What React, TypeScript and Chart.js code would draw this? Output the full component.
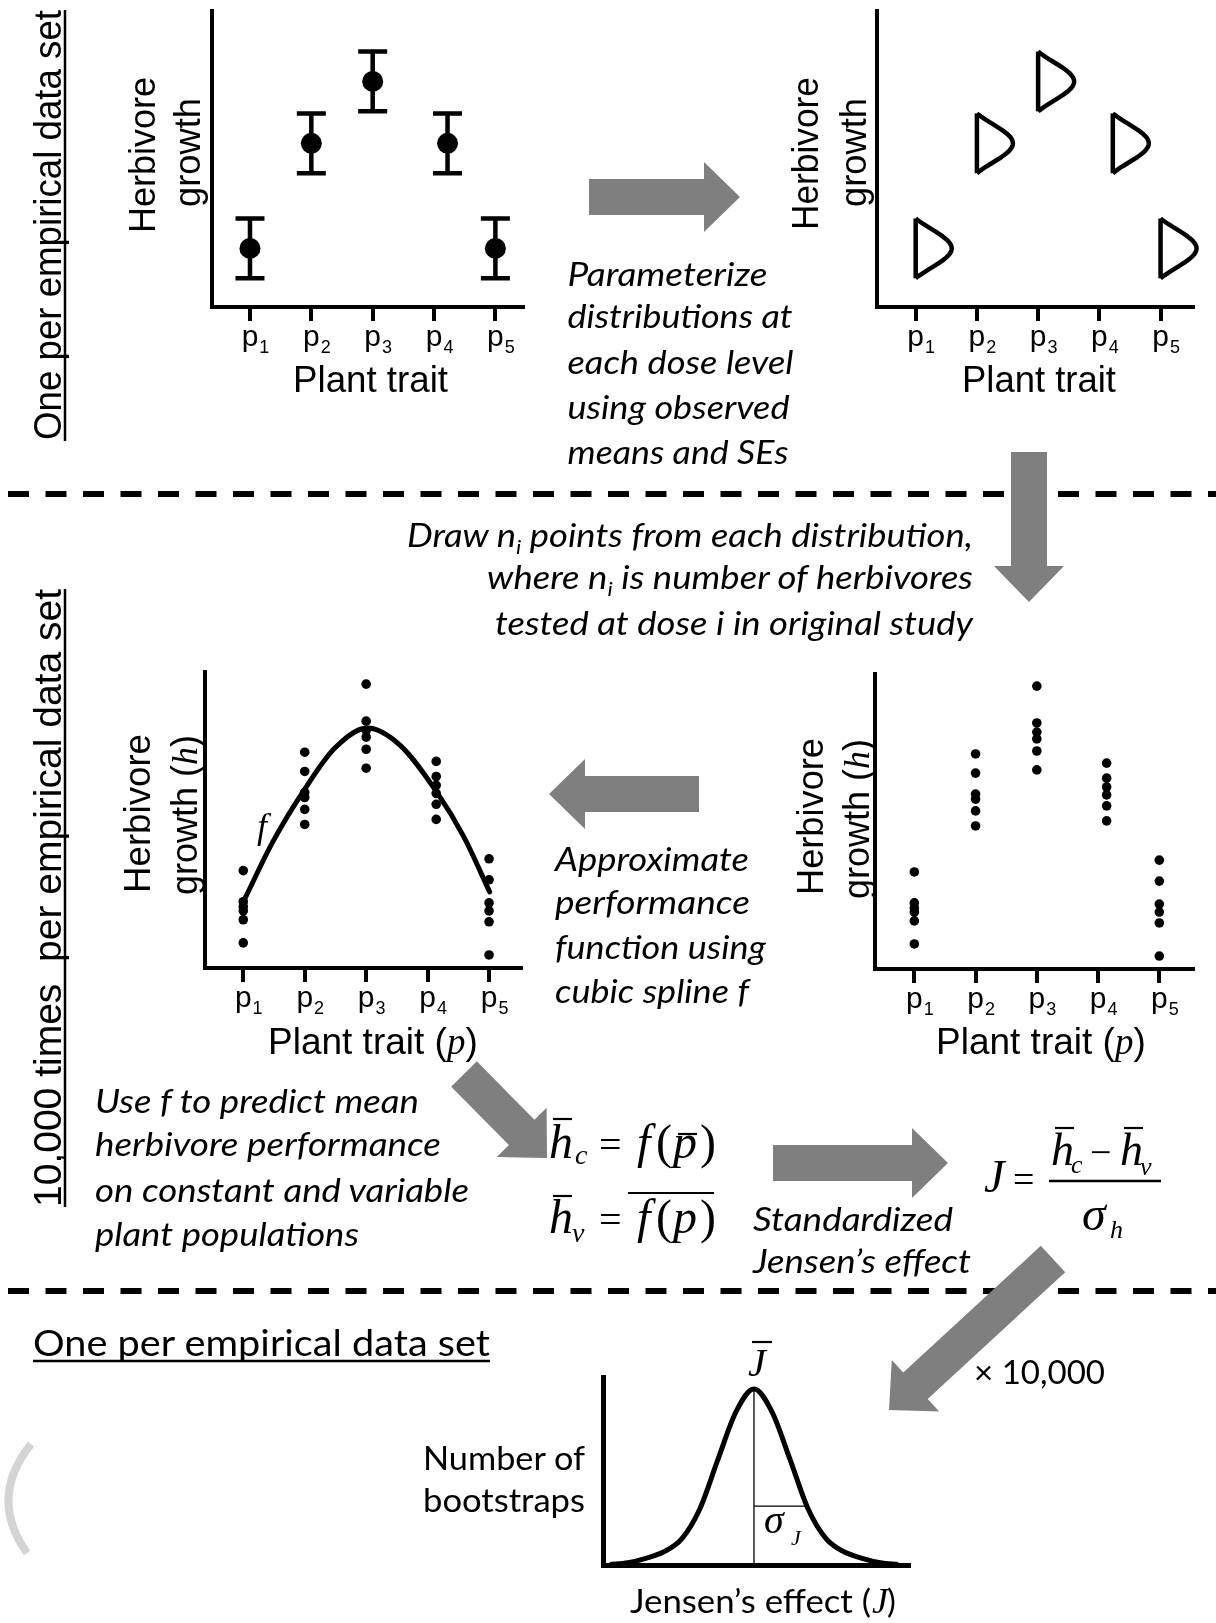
import React, { useEffect, useRef } from 'react';
import { Chart, registerables } from 'chart.js';

Chart.register(...registerables);

// ---------------- data ----------------
const tickLabels = ['p1', 'p2', 'p3', 'p4', 'p5'];
const tickPositions = [1, 2, 3, 4, 5];
const topTraitPositions = [1, 2, 3, 4.22, 5];
const midTraitPositions = [1, 2, 3, 4.14, 5];
const observedMeans = [19.8, 55.3, 76.2, 55.3, 19.8];
const observedSE = [10.1, 10.1, 10.1, 10.1, 10.1];
const drawnP1 = [32.9, 22.4, 20.7, 19.3, 16.3, 8.5];
const drawnP2 = [72.9, 66.4, 59.3, 57.6, 53.6, 48.5];
const drawnP3 = [95.9, 83.4, 80.3, 78.0, 73.9, 67.5];
const drawnP4 = [69.8, 64.7, 61.7, 59.0, 55.3, 50.2];
const drawnP5 = [36.9, 29.8, 22.0, 19.3, 15.6, 4.4];
const splineX = [1.03, 1.48, 1.99, 2.49, 3.02, 3.55, 4.16, 4.59, 5.01];
const splineY = [23.6, 42.6, 60.1, 74.3, 81.1, 75.3, 59.1, 44.3, 25.7];
const jensenX = [-4, -3.5, -3, -2.5, -2, -1.5, -1, -0.5, 0, 0.5, 1, 1.5, 2, 2.5, 3, 3.5, 4];
const bootstrapCounts = [0.3, 1.3, 3.8, 7.5, 15, 32, 60, 87, 100, 87, 60, 32, 15, 7.5, 3.8, 1.3, 0.3];
const jensenMean = 0;
const jensenPeak = 100;
const sigmaX = 1.47;
const sigmaLevel = 33.5;

// ---------------- fonts / colours ----------------
const SANS = '"Liberation Sans", Arial, Helvetica, sans-serif';
const SERIF = '"Liberation Serif", "Times New Roman", serif';
const HUM = 'Lato, "Open Sans", sans-serif';
const GRAY = '#7f7f7f';

// ---------------- chart helpers ----------------
function baseOptions(xmin: number, xmax: number, ymax: number, withTicks: boolean, lw: number): any {
  const x: any = {
    type: 'linear',
    display: true,
    min: xmin,
    max: xmax,
    afterFit: (s: any) => { s.height = 0; },
    ticks: { display: false },
    grid: withTicks
      ? { display: true, drawOnChartArea: false, drawTicks: true, tickLength: 14, tickWidth: lw, tickColor: '#000', color: '#000', lineWidth: lw }
      : { display: false },
    border: { display: true, width: lw, color: '#000' },
  };
  if (withTicks) {
    x.afterBuildTicks = (s: any) => { s.ticks = tickPositions.map((v) => ({ value: v })); };
  }
  return {
    responsive: false,
    animation: false,
    events: [],
    plugins: { legend: { display: false }, tooltip: { enabled: false } },
    scales: {
      x,
      y: {
        type: 'linear',
        display: true,
        min: 0,
        max: ymax,
        afterFit: (s: any) => { s.width = 0; },
        ticks: { display: false },
        grid: { display: false },
        border: { display: true, width: lw, color: '#000' },
      },
    },
  };
}

const pTickLabelPlugin = {
  id: 'pTickLabels',
  afterDraw(chart: any) {
    const { ctx, chartArea } = chart;
    const xs = chart.scales.x;
    ctx.save();
    ctx.fillStyle = '#000';
    ctx.textBaseline = 'alphabetic';
    tickLabels.forEach((lab, i) => {
      const x = xs.getPixelForValue(tickPositions[i]);
      const base = chartArea.bottom + 39;
      ctx.font = `30px ${SANS}`;
      ctx.textAlign = 'center';
      ctx.fillText(lab[0], x, base);
      const w = ctx.measureText(lab[0]).width;
      ctx.font = `18px ${SANS}`;
      ctx.textAlign = 'left';
      ctx.fillText(lab.slice(1), x + w / 2 + 1, base + 7);
    });
    ctx.restore();
  },
};

const errorBarPlugin = {
  id: 'errorBars',
  beforeDatasetsDraw(chart: any) {
    const { ctx } = chart;
    const ys = chart.scales.y;
    const meta = chart.getDatasetMeta(0);
    ctx.save();
    ctx.strokeStyle = '#000';
    ctx.lineWidth = 4.5;
    meta.data.forEach((pt: any, i: number) => {
      const yTop = ys.getPixelForValue(observedMeans[i] + observedSE[i]);
      const yBot = ys.getPixelForValue(observedMeans[i] - observedSE[i]);
      ctx.beginPath();
      ctx.moveTo(pt.x, yTop); ctx.lineTo(pt.x, yBot);
      ctx.moveTo(pt.x - 14.5, yTop); ctx.lineTo(pt.x + 14.5, yTop);
      ctx.moveTo(pt.x - 14.5, yBot); ctx.lineTo(pt.x + 14.5, yBot);
      ctx.stroke();
    });
    ctx.restore();
  },
};

const halfDistributionPlugin = {
  id: 'halfDistributions',
  afterDatasetsDraw(chart: any) {
    const { ctx } = chart;
    const ys = chart.scales.y;
    const meta = chart.getDatasetMeta(0);
    const k = 1.2;
    const floor = Math.exp(-k);
    ctx.save();
    ctx.strokeStyle = '#000';
    ctx.lineWidth = 4.5;
    ctx.lineJoin = 'round';
    meta.data.forEach((pt: any, i: number) => {
      const m = observedMeans[i];
      const se = observedSE[i];
      const yTop = ys.getPixelForValue(m + se);
      const yBot = ys.getPixelForValue(m - se);
      ctx.beginPath();
      ctx.moveTo(pt.x, yTop);
      ctx.lineTo(pt.x, yBot);
      ctx.stroke();
      ctx.beginPath();
      ctx.moveTo(pt.x, yTop);
      for (let s = 0; s <= 40; s++) {
        const t = 1 - (2 * s) / 40;
        const y = ys.getPixelForValue(m + t * se);
        const dx = (36 * (Math.exp(-k * t * t) - floor)) / (1 - floor);
        ctx.lineTo(pt.x + dx, y);
      }
      ctx.stroke();
    });
    ctx.restore();
  },
};

function dotsFrom(levels: number[][], positions: number[]) {
  const out: { x: number; y: number }[] = [];
  levels.forEach((vals, i) => vals.forEach((v) => out.push({ x: positions[i], y: v })));
  return out;
}

const buildTopLeft = () => ({
  type: 'scatter',
  data: {
    datasets: [{
      data: topTraitPositions.map((x, i) => ({ x, y: observedMeans[i] })),
      pointRadius: 10.5, backgroundColor: '#000', borderColor: '#000', pointBorderWidth: 0, clip: false,
    }],
  },
  options: baseOptions(0.381, 5.45, 100, true, 4),
  plugins: [errorBarPlugin, pTickLabelPlugin],
});

const buildTopRight = () => ({
  type: 'scatter',
  data: {
    datasets: [{
      data: topTraitPositions.map((x, i) => ({ x, y: observedMeans[i] })),
      pointRadius: 0, backgroundColor: '#000', borderColor: '#000', clip: false,
    }],
  },
  options: baseOptions(0.368, 5.53, 100, true, 4),
  plugins: [halfDistributionPlugin, pTickLabelPlugin],
});

const drawnLevels = [drawnP1, drawnP2, drawnP3, drawnP4, drawnP5];

const buildMidLeft = () => ({
  type: 'scatter',
  data: {
    datasets: [
      {
        data: splineX.map((x, i) => ({ x, y: splineY[i] })),
        showLine: true, borderColor: '#000', borderWidth: 5, pointRadius: 0,
        cubicInterpolationMode: 'monotone', borderCapStyle: 'round', clip: false,
      },
      {
        data: dotsFrom(drawnLevels, midTraitPositions),
        pointRadius: 4.8, backgroundColor: '#000', borderColor: '#000', pointBorderWidth: 0, clip: false,
      },
    ],
  },
  options: baseOptions(0.377, 5.52, 100, true, 4),
  plugins: [pTickLabelPlugin],
});

const buildMidRight = () => ({
  type: 'scatter',
  data: {
    datasets: [{
      data: dotsFrom(drawnLevels, midTraitPositions),
      pointRadius: 4.8, backgroundColor: '#000', borderColor: '#000', pointBorderWidth: 0, clip: false,
    }],
  },
  options: baseOptions(0.358, 5.55, 100, true, 4),
  plugins: [pTickLabelPlugin],
});

const buildBell = () => ({
  type: 'scatter',
  data: {
    datasets: [
      {
        data: jensenX.map((x, i) => ({ x, y: bootstrapCounts[i] })),
        showLine: true, borderColor: '#000', borderWidth: 5, pointRadius: 0,
        cubicInterpolationMode: 'monotone', borderJoinStyle: 'round', clip: false,
      },
      {
        data: [{ x: jensenMean, y: 0 }, { x: jensenMean, y: jensenPeak }],
        showLine: true, borderColor: '#000', borderWidth: 1.3, pointRadius: 0, clip: false,
      },
      {
        data: [{ x: jensenMean, y: sigmaLevel }, { x: sigmaX, y: sigmaLevel }],
        showLine: true, borderColor: '#000', borderWidth: 1.3, pointRadius: 0, clip: false,
      },
    ],
  },
  options: baseOptions(-4.19, 4.33, 106.8, false, 5),
  plugins: [],
});

type PanelProps = {
  left: number; top: number; width: number; height: number;
  area: [number, number, number, number];
  build: () => any;
};

function ChartPanel({ left, top, width, height, area, build }: PanelProps) {
  const ref = useRef<HTMLCanvasElement | null>(null);
  useEffect(() => {
    if (!ref.current) return;
    const cfg = build();
    cfg.options.layout = {
      padding: { left: area[0] - left, top: area[1] - top, right: left + width - area[2], bottom: top + height - area[3] },
    };
    const chart = new Chart(ref.current, cfg);
    return () => chart.destroy();
  }, []);
  return <canvas ref={ref} width={width} height={height} style={{ position: 'absolute', left, top, width, height }} />;
}

// ---------------- svg helpers ----------------
function arrowPoints(tx: number, ty: number, px: number, py: number, sw = 36, hw = 70, hl = 36) {
  const dx = px - tx, dy = py - ty;
  const len = Math.hypot(dx, dy);
  const ux = dx / len, uy = dy / len;
  const nx = -uy, ny = ux;
  const bx = px - ux * hl, by = py - uy * hl;
  const pts = [
    [tx + (nx * sw) / 2, ty + (ny * sw) / 2],
    [bx + (nx * sw) / 2, by + (ny * sw) / 2],
    [bx + (nx * hw) / 2, by + (ny * hw) / 2],
    [px, py],
    [bx - (nx * hw) / 2, by - (ny * hw) / 2],
    [bx - (nx * sw) / 2, by - (ny * sw) / 2],
    [tx - (nx * sw) / 2, ty - (ny * sw) / 2],
  ];
  return pts.map((p) => p.map((v) => v.toFixed(1)).join(',')).join(' ');
}

type TxProps = {
  x: number; y: number; s: number; f?: string; i?: boolean; a?: 'start' | 'middle' | 'end';
  w?: number; r?: boolean; children: React.ReactNode;
};

function Tx({ x, y, s, f = SANS, i = false, a = 'start', w, r = false, children }: TxProps) {
  const extra: any = w ? { textLength: w, lengthAdjust: 'spacingAndGlyphs' } : {};
  return (
    <text
      x={x} y={y} fontSize={s} fontFamily={f} fontStyle={i ? 'italic' : 'normal'} textAnchor={a}
      fill="#000" transform={r ? `rotate(-90 ${x} ${y})` : undefined} {...extra}
    >
      {children}
    </text>
  );
}

const Ln = ({ x1, y1, x2, y2, w = 2.2 }: { x1: number; y1: number; x2: number; y2: number; w?: number }) => (
  <line x1={x1} y1={y1} x2={x2} y2={y2} stroke="#000" strokeWidth={w} />
);

export default function App() {
  return (
    <div style={{ position: 'absolute', left: 0, top: 0, width: 1216, height: 1623, background: '#fff', overflow: 'hidden' }}>
      <ChartPanel left={190} top={0} width={350} height={360} area={[212, 11, 523, 307]} build={buildTopLeft} />
      <ChartPanel left={860} top={0} width={356} height={360} area={[877, 11, 1193, 307]} build={buildTopRight} />
      <ChartPanel left={190} top={650} width={350} height={375} area={[205, 672, 521, 968]} build={buildMidLeft} />
      <ChartPanel left={860} top={650} width={356} height={375} area={[875, 674, 1193, 969]} build={buildMidRight} />
      <ChartPanel left={590} top={1330} width={340} height={250} area={[603, 1377, 910, 1565]} build={buildBell} />

      <svg width={1216} height={1623} style={{ position: 'absolute', left: 0, top: 0 }}>
        {/* dashed separators */}
        <line x1={8} y1={494} x2={1216} y2={494} stroke="#000" strokeWidth={6} strokeDasharray="21 16.5" />
        <line x1={8} y1={1291} x2={1216} y2={1291} stroke="#000" strokeWidth={6} strokeDasharray="21 16.5" />

        {/* faint arc at bottom-left edge */}
        <path d="M 31 1444 Q -12 1498 27 1553" stroke="#d4d4d4" strokeWidth={8} fill="none" />

        {/* arrows */}
        <polygon points={arrowPoints(589, 197, 740, 197)} fill={GRAY} />
        <polygon points={arrowPoints(1029, 452, 1029, 602)} fill={GRAY} />
        <polygon points={arrowPoints(699, 794, 549, 794)} fill={GRAY} />
        <polygon points={arrowPoints(464, 1074, 547, 1158)} fill={GRAY} />
        <polygon points={arrowPoints(773, 1163, 948, 1163)} fill={GRAY} />
        <polygon points={arrowPoints(1053, 1259, 889, 1410)} fill={GRAY} />

        {/* left vertical section labels */}
        <Tx x={61} y={440} s={38} w={430} r>One per empirical data set</Tx>
        <Ln x1={65} y1={10} x2={65} y2={441} w={2.5} />
        <Tx x={61} y={1207} s={38} w={618} r>{'10,000 times\u00A0 per empirical data set'}</Tx>
        <Ln x1={65} y1={589} x2={65} y2={1207} w={2.5} />

        {/* top-left chart labels */}
        <Tx x={155} y={233} s={36} w={156} r>Herbivore</Tx>
        <Tx x={200} y={207} s={36} w={109} r>growth</Tx>
        <Tx x={293} y={392} s={37} w={155}>Plant trait</Tx>

        {/* top-right chart labels */}
        <Tx x={818} y={230} s={36} w={153} r>Herbivore</Tx>
        <Tx x={866} y={207} s={36} w={109} r>growth</Tx>
        <Tx x={962} y={392} s={37} w={154}>Plant trait</Tx>

        {/* top description */}
        <Tx x={567.5} y={286} s={32} f={HUM} i w={200}>Parameterize</Tx>
        <Tx x={567.5} y={328} s={32} f={HUM} i w={225}>distributions at</Tx>
        <Tx x={567.5} y={374} s={32} f={HUM} i w={226}>each dose level</Tx>
        <Tx x={567.5} y={419} s={32} f={HUM} i w={222}>using observed</Tx>
        <Tx x={567.5} y={464} s={32} f={HUM} i w={221}>means and SEs</Tx>

        {/* draw n_i description */}
        <text x={407} y={547} fontSize={32} fontFamily={HUM} fontStyle="italic" textLength={566} lengthAdjust="spacingAndGlyphs">
          Draw n<tspan fontSize={20} dy={7}>i</tspan><tspan dy={-7}> points from each distribution,</tspan>
        </text>
        <text x={487} y={589} fontSize={32} fontFamily={HUM} fontStyle="italic" textLength={486} lengthAdjust="spacingAndGlyphs">
          where n<tspan fontSize={20} dy={7}>i</tspan><tspan dy={-7}> is number of herbivores</tspan>
        </text>
        <Tx x={495} y={635} s={32} f={HUM} i w={478}>tested at dose i in original study</Tx>

        {/* middle-left chart labels */}
        <Tx x={150} y={893} s={36} w={159} r>Herbivore</Tx>
        <text x={197} y={895} fontSize={36} fontFamily={SANS} transform="rotate(-90 197 895)">
          growth (<tspan fontFamily={SERIF} fontStyle="italic">h</tspan>)
        </text>
        <text x={268} y={1054} fontSize={37} fontFamily={SANS}>
          Plant trait (<tspan fontFamily={SERIF} fontStyle="italic">p</tspan>)
        </text>
        <Tx x={257} y={838} s={36} f={SERIF} i>f</Tx>

        {/* middle-right chart labels */}
        <Tx x={823} y={895} s={36} w={157} r>Herbivore</Tx>
        <text x={869} y={899} fontSize={36} fontFamily={SANS} transform="rotate(-90 869 899)">
          growth (<tspan fontFamily={SERIF} fontStyle="italic">h</tspan>)
        </text>
        <text x={936} y={1054} fontSize={37} fontFamily={SANS}>
          Plant trait (<tspan fontFamily={SERIF} fontStyle="italic">p</tspan>)
        </text>

        {/* approximate description */}
        <Tx x={555} y={871} s={32} f={HUM} i w={194}>Approximate</Tx>
        <Tx x={555} y={914} s={32} f={HUM} i w={195}>performance</Tx>
        <Tx x={555} y={959} s={32} f={HUM} i w={211}>function using</Tx>
        <Tx x={555} y={1003} s={32} f={HUM} i w={194}>cubic spline f</Tx>

        {/* use f description */}
        <Tx x={95} y={1113} s={32} f={HUM} i w={324}>Use f to predict mean</Tx>
        <Tx x={95} y={1156} s={32} f={HUM} i w={346}>herbivore performance</Tx>
        <Tx x={95} y={1202} s={32} f={HUM} i w={374}>on constant and variable</Tx>
        <Tx x={95} y={1246} s={32} f={HUM} i w={264}>plant populations</Tx>

        {/* formula 1: h_c = f(p-bar) */}
        <Tx x={549} y={1158} s={48} f={SERIF} i>h</Tx>
        <Ln x1={553} y1={1119} x2={572} y2={1119} />
        <Tx x={575} y={1164} s={28} f={SERIF} i>c</Tx>
        <Tx x={599} y={1158} s={40} f={SERIF}>=</Tx>
        <Tx x={637} y={1158} s={48} f={SERIF} i>f</Tx>
        <Tx x={656} y={1158} s={48} f={SERIF}>(</Tx>
        <Tx x={673} y={1158} s={48} f={SERIF} i>p</Tx>
        <Ln x1={678} y1={1134} x2={697} y2={1134} />
        <Tx x={700} y={1158} s={48} f={SERIF}>)</Tx>

        {/* formula 2: h_v = mean of f(p) */}
        <Tx x={549} y={1233} s={48} f={SERIF} i>h</Tx>
        <Ln x1={553} y1={1196} x2={572} y2={1196} />
        <Tx x={572} y={1242} s={28} f={SERIF} i>v</Tx>
        <Tx x={599} y={1233} s={40} f={SERIF}>=</Tx>
        <Tx x={637} y={1233} s={48} f={SERIF} i>f</Tx>
        <Tx x={656} y={1233} s={48} f={SERIF}>(</Tx>
        <Tx x={673} y={1233} s={48} f={SERIF} i>p</Tx>
        <Tx x={700} y={1233} s={48} f={SERIF}>)</Tx>
        <Ln x1={628} y1={1193} x2={714} y2={1193} />

        {/* standardized Jensen's effect */}
        <Tx x={753} y={1231} s={32} f={HUM} i w={200}>Standardized</Tx>
        <Tx x={753} y={1273} s={32} f={HUM} i w={218}>{'Jensen\u2019s effect'}</Tx>

        {/* J formula */}
        <Tx x={984} y={1192} s={46} f={SERIF} i>J</Tx>
        <Tx x={1013} y={1192} s={38} f={SERIF}>=</Tx>
        <Tx x={1051} y={1165} s={46} f={SERIF} i>h</Tx>
        <Ln x1={1055} y1={1128} x2={1074} y2={1128} />
        <Tx x={1071} y={1173} s={26} f={SERIF} i>c</Tx>
        <Tx x={1090} y={1165} s={38} f={SERIF}>{'\u2212'}</Tx>
        <Tx x={1120} y={1165} s={46} f={SERIF} i>h</Tx>
        <Ln x1={1124} y1={1128} x2={1143} y2={1128} />
        <Tx x={1140} y={1175} s={26} f={SERIF} i>v</Tx>
        <Ln x1={1049} y1={1181} x2={1161} y2={1181} w={2.5} />
        <Tx x={1082} y={1230} s={48} f={SERIF} i>{'\u03C3'}</Tx>
        <Tx x={1110} y={1238} s={26} f={SERIF} i>h</Tx>

        {/* bottom section */}
        <Tx x={33} y={1356} s={36} f={HUM} w={457}>One per empirical data set</Tx>
        <Ln x1={33} y1={1361} x2={490} y2={1361} w={2.5} />
        <Tx x={974} y={1384} s={33} f={HUM} w={131}>{'\u00D7 10,000'}</Tx>
        <Tx x={423} y={1470} s={33} f={HUM} w={162}>Number of</Tx>
        <Tx x={423} y={1512} s={33} f={HUM} w={162}>bootstraps</Tx>
        <Tx x={748} y={1376} s={40} f={SERIF} i>J</Tx>
        <Ln x1={752} y1={1342} x2={772} y2={1342} />
        <Tx x={764} y={1533} s={40} f={SERIF} i>{'\u03C3'}</Tx>
        <Tx x={791} y={1545} s={22} f={SERIF} i>J</Tx>
        <Tx x={630} y={1613} s={33} f={HUM} w={241}>{'Jensen\u2019s effect ('}</Tx>
        <Tx x={872} y={1613} s={36} f={SERIF} i>J</Tx>
        <Tx x={887} y={1613} s={33} f={HUM}>)</Tx>
      </svg>
    </div>
  );
}
